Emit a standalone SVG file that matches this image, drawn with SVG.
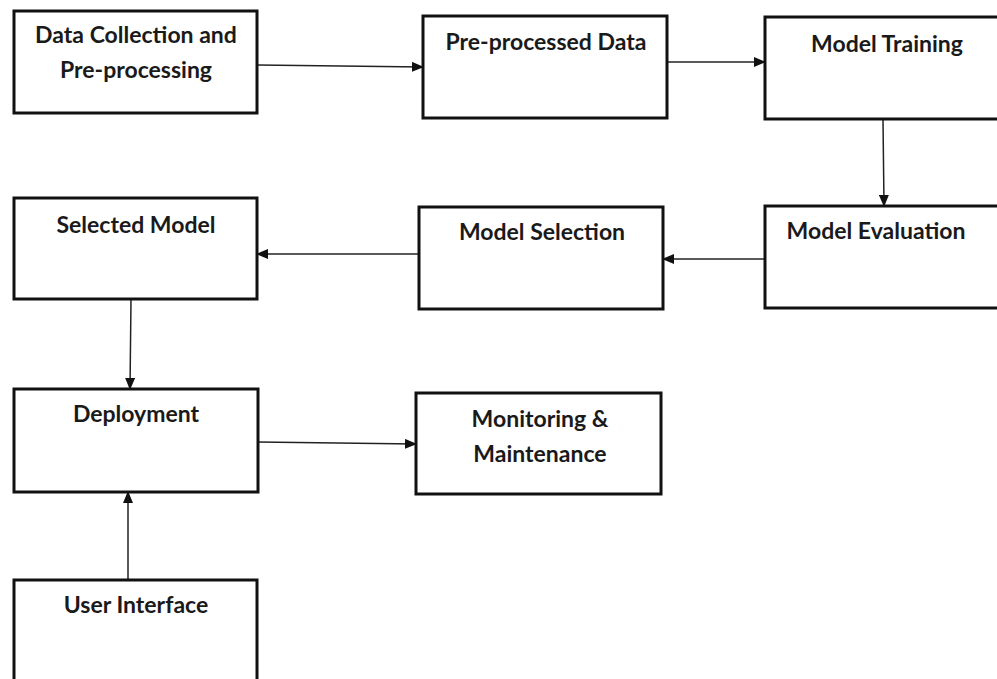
<svg xmlns="http://www.w3.org/2000/svg" width="997" height="679" viewBox="0 0 997 679">
<style>
.box{fill:#fff;stroke:#111;stroke-width:3}
.lbl{font-family:Lato,"Open Sans","Liberation Sans",sans-serif;font-weight:bold;font-size:23px;fill:#1a1a1a;text-anchor:middle}
.conn{stroke:#222;stroke-width:1.5;fill:none;marker-end:url(#ah)}
</style>
<defs>
<marker id="ah" markerWidth="12" markerHeight="10" refX="11" refY="5" orient="auto" markerUnits="userSpaceOnUse">
<path d="M0,0 L12,5 L0,10 Z" fill="#111"/>
</marker>
</defs>
<rect width="997" height="679" fill="#fff"/>
<g id="connectors">
<line class="conn" x1="258" y1="65" x2="423" y2="67"/>
<line class="conn" x1="668" y1="62" x2="765" y2="62"/>
<line class="conn" x1="883" y1="120" x2="884" y2="206"/>
<line class="conn" x1="765" y1="259" x2="663" y2="259"/>
<line class="conn" x1="419" y1="254" x2="257" y2="254"/>
<line class="conn" x1="131" y1="300" x2="130" y2="389"/>
<line class="conn" x1="258" y1="442" x2="416" y2="444"/>
<line class="conn" x1="128" y1="580" x2="128" y2="492"/>
</g>
<g id="n1"><rect class="box" x="14" y="11" width="243" height="102"/><text class="lbl" x="136" y="43">Data Collection and</text><text class="lbl" x="136" y="78">Pre-processing</text></g>
<g id="n2"><rect class="box" x="423" y="16" width="244" height="102"/><text class="lbl" x="546" y="50">Pre-processed Data</text></g>
<g id="n3"><rect class="box" x="765" y="17" width="240" height="102"/><text class="lbl" x="887" y="52">Model Training</text></g>
<g id="n4"><rect class="box" x="765" y="206" width="240" height="102"/><text class="lbl" x="876" y="239">Model Evaluation</text></g>
<g id="n5"><rect class="box" x="419" y="207" width="244" height="102"/><text class="lbl" x="542" y="240">Model Selection</text></g>
<g id="n6"><rect class="box" x="14" y="198" width="243" height="101"/><text class="lbl" x="136" y="233">Selected Model</text></g>
<g id="n7"><rect class="box" x="14" y="389" width="244" height="103"/><text class="lbl" x="136" y="422">Deployment</text></g>
<g id="n8"><rect class="box" x="416" y="393" width="245" height="101"/><text class="lbl" x="540" y="427">Monitoring &amp;</text><text class="lbl" x="540" y="462">Maintenance</text></g>
<g id="n9"><rect class="box" x="14" y="580" width="243" height="110"/><text class="lbl" x="136" y="613">User Interface</text></g>
</svg>
